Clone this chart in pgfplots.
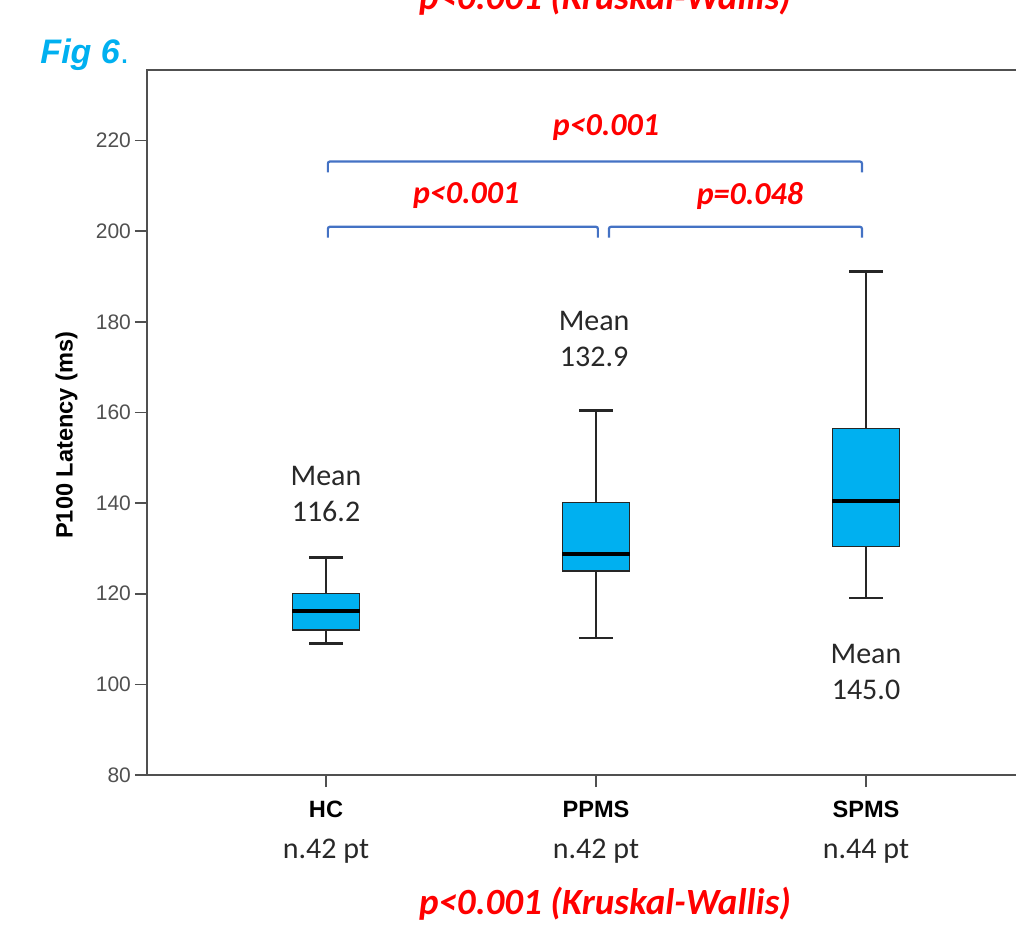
\documentclass[border=0pt]{standalone}
\usepackage{fontspec}
\setmainfont{Carlito}
\newfontfamily\arial{Liberation Sans}
\usepackage{pgfplots}
\pgfplotsset{compat=1.18}
\usepgfplotslibrary{statistics}
\definecolor{boxc}{RGB}{0,176,240}
\definecolor{brk}{RGB}{68,114,196}
\definecolor{pred}{RGB}{255,0,0}
\definecolor{axg}{RGB}{80,80,80}
\definecolor{txt}{RGB}{40,40,40}
\begin{document}
\begin{tikzpicture}
\begin{axis}[
  at={(0,0)}, anchor=south west,
  scale only axis, width=449pt, height=352.5pt,
  xmin=0.337, xmax=3.663, ymin=80, ymax=235.6,
  clip=false,
  axis line style={axg, line width=1.1pt},
  xtick={1,2,3}, xticklabels={HC,PPMS,SPMS},
  xticklabel style={font=\arial\bfseries\fontsize{11.8}{14}\selectfont, text=black, yshift=-3.5pt},
  ytick={80,100,...,220},
  yticklabel style={font=\arial\fontsize{10.5}{12}\selectfont, text=axg, xshift=1.5pt},
  /pgf/number format/assume math mode=true,
  tick align=outside, xtick pos=bottom, ytick pos=left,
  major tick length=6pt,
  tick style={axg, line width=0.8pt},
  boxplot/draw direction=y,
  boxplot/every median/.style={line width=1.9pt, draw=black},
  boxplot/every whisker/.style={line width=1.3pt, draw=black!85},
  boxplot/every box/.style={line width=0.7pt, draw=black!85, fill=boxc},
]
\addplot[boxplot prepared={draw position=1, lower whisker=109, lower quartile=112, median=116.2, upper quartile=120, upper whisker=128, box extend=0.25, whisker extend=0.125}] coordinates {};
\addplot[boxplot prepared={draw position=2, lower whisker=110.2, lower quartile=125, median=128.8, upper quartile=140.1, upper whisker=160.4, box extend=0.25, whisker extend=0.125}] coordinates {};
\addplot[boxplot prepared={draw position=3, lower whisker=119.1, lower quartile=130.4, median=140.5, upper quartile=156.5, upper whisker=191.1, box extend=0.25, whisker extend=0.125}] coordinates {};

% brackets
\draw[brk, line width=1.1pt, rounded corners=1pt] (axis cs:1.007,213.0) -- (axis cs:1.007,215.4) -- (axis cs:2.985,215.4) -- (axis cs:2.985,213.0);
\draw[brk, line width=1.1pt, rounded corners=1pt] (axis cs:1.007,198.6) -- (axis cs:1.007,201.0) -- (axis cs:2.007,201.0) -- (axis cs:2.007,198.6);
\draw[brk, line width=1.1pt, rounded corners=1pt] (axis cs:2.048,198.6) -- (axis cs:2.048,201.0) -- (axis cs:2.985,201.0) -- (axis cs:2.985,198.6);

\node[text=pred, font=\bfseries\itshape\fontsize{16}{19}\selectfont] at (axis cs:2.037,222.9) {p<0.001};
\node[text=pred, font=\bfseries\itshape\fontsize{16}{19}\selectfont] at (axis cs:1.519,207.8) {p<0.001};
\node[text=pred, font=\bfseries\itshape\fontsize{16}{19}\selectfont] at (axis cs:2.570,207.8) {p=0.048};

\node[text=txt, align=center, font=\fontsize{15}{18}\selectfont] at (axis cs:1.0,142.0) {Mean\\116.2};
\node[text=txt, align=center, font=\fontsize{15}{18}\selectfont] at (axis cs:1.993,176.2) {Mean\\132.9};
\node[text=txt, align=center, font=\fontsize{15}{18}\selectfont] at (axis cs:3.0,102.7) {Mean\\145.0};

\node[text=txt, font=\fontsize{15}{18}\selectfont] at (axis cs:1,63.2) {n.42 pt};
\node[text=txt, font=\fontsize{15}{18}\selectfont] at (axis cs:2,63.2) {n.42 pt};
\node[text=txt, font=\fontsize{15}{18}\selectfont] at (axis cs:3,63.2) {n.44 pt};

\node[text=pred, font=\bfseries\itshape\fontsize{18.5}{22}\selectfont] at (axis cs:2.033,51.7) {p<0.001 (Kruskal-Wallis)};
\node[text=pred, font=\bfseries\itshape\fontsize{18.5}{22}\selectfont] at (axis cs:2.033,251.3) {p<0.001 (Kruskal-Wallis)};

\node[anchor=west, inner sep=0pt, text=boxc, font=\arial\fontsize{17}{20}\selectfont] at (axis cs:-0.059,238.9) {\bfseries\itshape Fig 6\normalfont\arial.};

\node[rotate=90, font=\arial\bfseries\fontsize{11.8}{14}\selectfont, text=black] at (axis description cs:-0.0895,0.482) {P100 Latency (ms)};
\end{axis}
\pgfresetboundingbox
\useasboundingbox (-73.5pt,-78pt) rectangle (434.5pt,387.5pt);
\end{tikzpicture}
\end{document}
